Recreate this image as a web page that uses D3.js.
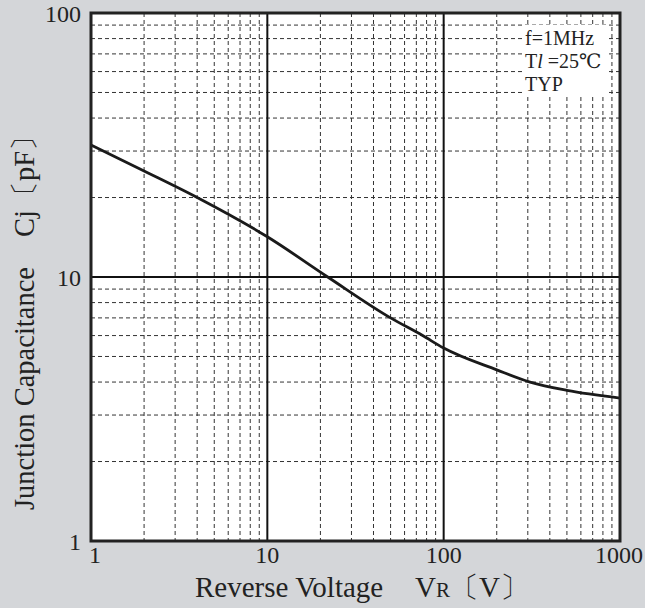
<!DOCTYPE html>
<html>
<head>
<meta charset="utf-8">
<script src="https://cdn.jsdelivr.net/npm/d3@7"></script>
<style>
  body { margin: 0; background: #d4d6d9; }
  svg { display: block; font-family: "Liberation Serif", "DejaVu Serif", serif; }
</style>
</head>
<body>
<div id="chart"></div>
<script>
// data
const voltage = [1, 2, 4, 10, 22, 50, 76, 100, 200, 309, 500, 1000];
const capacitance = [31.6, 25.2, 20, 14.2, 10, 7, 6, 5.38, 4.45, 4, 3.72, 3.48];
const xTicks = [1, 10, 100, 1000];
const yTicks = [1, 10, 100];

const width = 645, height = 608;
const margin = {left: 91, right: 25, top: 13, bottom: 67};

const svg = d3.select('#chart').append('svg')
  .attr('width', width)
  .attr('height', height);

svg.append('rect')
  .attr('width', width).attr('height', height)
  .attr('fill', '#d4d6d9');

const x = d3.scaleLog().domain([1, 1000]).range([margin.left, width - margin.right]);
const y = d3.scaleLog().domain([1, 100]).range([height - margin.bottom, margin.top]);

// plot area
svg.append('rect')
  .attr('x', x(1)).attr('y', y(100))
  .attr('width', x(1000) - x(1)).attr('height', y(1) - y(100))
  .attr('fill', '#fff');

// minor grid (2..9 in each decade)
const minor = (lo, hi) => {
  const out = [];
  for (let d = lo; d < hi; d *= 10) {
    for (let k = 2; k <= 9; ++k) out.push(d * k);
  }
  return out;
};

const grid = svg.append('g');
grid.selectAll('line.vx').data(minor(1, 1000)).enter().append('line')
  .attr('x1', d => x(d)).attr('x2', d => x(d))
  .attr('y1', y(100)).attr('y2', y(1))
  .attr('stroke', '#333').attr('stroke-width', 1)
  .attr('stroke-dasharray', '4,3');
grid.selectAll('line.hy').data(minor(1, 100)).enter().append('line')
  .attr('y1', d => y(d)).attr('y2', d => y(d))
  .attr('x1', x(1)).attr('x2', x(1000))
  .attr('stroke', '#333').attr('stroke-width', 1)
  .attr('stroke-dasharray', '4,3');

// note box
const box = svg.append('g').attr('fill', '#222').attr('font-size', 20);
box.append('rect')
  .attr('x', 523).attr('y', 25).attr('width', 85).attr('height', 70)
  .attr('fill', '#fff');
box.append('text').attr('x', 525).attr('y', 45).text('f=1MHz');
const t2 = box.append('text').attr('x', 525).attr('y', 68);
t2.append('tspan').text('T');
t2.append('tspan').attr('font-style', 'italic').text('l');
t2.append('tspan').text(' =25\u2103');
box.append('text').attr('x', 525).attr('y', 91).text('TYP');

// major grid
grid.selectAll('line.mx').data([10, 100]).enter().append('line')
  .attr('x1', d => x(d)).attr('x2', d => x(d))
  .attr('y1', y(100)).attr('y2', y(1))
  .attr('stroke', '#111').attr('stroke-width', 2);
grid.selectAll('line.my').data([10]).enter().append('line')
  .attr('y1', d => y(d)).attr('y2', d => y(d))
  .attr('x1', x(1)).attr('x2', x(1000))
  .attr('stroke', '#111').attr('stroke-width', 2);

// curve
const line = d3.line()
  .x((d, i) => x(voltage[i]))
  .y(d => y(d))
  .curve(d3.curveMonotoneX);
svg.append('path')
  .attr('d', line(capacitance))
  .attr('fill', 'none')
  .attr('stroke', '#1a1a1a')
  .attr('stroke-width', 2.8);

// frame
svg.append('rect')
  .attr('x', x(1)).attr('y', y(100))
  .attr('width', x(1000) - x(1)).attr('height', y(1) - y(100))
  .attr('fill', 'none')
  .attr('stroke', '#222').attr('stroke-width', 3);

// tick labels
svg.selectAll('text.xt').data(xTicks).enter().append('text')
  .attr('x', d => d === 1 ? x(d) + 4 : (d === 1000 ? x(d) - 1 : x(d)))
  .attr('y', 563)
  .attr('text-anchor', 'middle')
  .attr('font-size', 24)
  .attr('fill', '#222')
  .text(d => d);
svg.selectAll('text.yt').data(yTicks).enter().append('text')
  .attr('x', 81)
  .attr('y', d => y(d) + 9)
  .attr('text-anchor', 'end')
  .attr('font-size', 24)
  .attr('fill', '#222')
  .text(d => d);

// axis titles
const xTitle = svg.append('g').attr('font-size', 29).attr('fill', '#222');
xTitle.append('text').attr('x', 195).attr('y', 597).text('Reverse Voltage');
const vr = xTitle.append('text').attr('x', 415).attr('y', 597);
vr.append('tspan').text('V');
vr.append('tspan').attr('font-size', 21).text('R');
vr.append('tspan').text('\u3014V\u3015');

const yTitle = svg.append('g').attr('font-size', 28.5).attr('fill', '#222')
  .attr('transform', 'translate(34,0) rotate(-90)');
yTitle.append('text').attr('x', -510).attr('y', 0).text('Junction Capacitance');
yTitle.append('text').attr('x', -237).attr('y', 0).text('Cj\u3014pF\u3015');
</script>
</body>
</html>
